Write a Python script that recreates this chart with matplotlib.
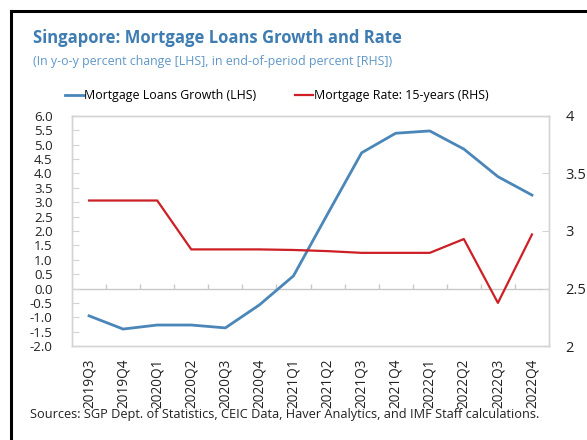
import matplotlib
matplotlib.use("Agg")
import matplotlib.pyplot as plt
from matplotlib.lines import Line2D

plt.rcParams['font.family'] = ['Open Sans', 'DejaVu Sans']

quarters = ['2019Q3', '2019Q4', '2020Q1', '2020Q2', '2020Q3', '2020Q4', '2021Q1',
            '2021Q2', '2021Q3', '2021Q4', '2022Q1', '2022Q2', '2022Q3', '2022Q4']
loans_growth = [-0.95, -1.41, -1.27, -1.27, -1.37, -0.57, 0.44,
                2.59, 4.72, 5.40, 5.48, 4.85, 3.89, 3.25]
mortgage_rate = [3.265, 3.265, 3.265, 2.84, 2.84, 2.84, 2.835,
                 2.825, 2.81, 2.81, 2.81, 2.93, 2.375, 2.97]
left_ticks = [-2.0, -1.5, -1.0, -0.5, 0.0, 0.5, 1.0, 1.5, 2.0, 2.5, 3.0, 3.5, 4.0, 4.5, 5.0, 5.5, 6.0]
right_ticks = [2, 2.5, 3, 3.5, 4]
right_labels = ['2', '2.5', '3', '3.5', '4']

blue = '#4a86b8'
red = '#cc1f26'
frame = '#d4d4d4'

fig = plt.figure(figsize=(5.87, 4.4), dpi=100)
ax = fig.add_axes([0.1227, 0.2136, 0.8126, 0.5228])
ax2 = ax.twinx()

x = list(range(len(quarters)))
ax.plot(x, loans_growth, color=blue, lw=2.0, zorder=3)
ax2.plot(x, mortgage_rate, color=red, lw=1.6, zorder=3)

ax.set_xlim(-0.5, len(quarters) - 0.5)
ax.set_ylim(-2, 6)
ax2.set_ylim(2, 4)

# zero line with small category separators
ax.axhline(0, color='#c8c8c8', lw=1.0, zorder=1)
ax.vlines([i + 0.5 for i in range(len(quarters) - 1)], 0, 0.17, color='#c8c8c8', lw=1.0, zorder=1)

ax.set_yticks(left_ticks)
ax.set_yticklabels([f'{v:.1f}' for v in left_ticks])
ax2.set_yticks(right_ticks)
ax2.set_yticklabels(right_labels)
ax.set_xticks(x)
ax.set_xticklabels(quarters, rotation=90)

ax.tick_params(axis='y', direction='in', length=5, color=frame, pad=14, labelsize=9.5, labelcolor='#222222')
ax2.tick_params(axis='y', direction='in', length=5, color=frame, pad=12, labelsize=10.5, labelcolor='#222222')
ax.tick_params(axis='x', length=0, pad=9, labelsize=9.8, labelcolor='#222222')

for a in (ax, ax2):
    for s in a.spines.values():
        s.set_color(frame)
        s.set_linewidth(1.0)

# title block
fig.text(0.057, 0.914, 'Singapore: Mortgage Loans Growth and Rate', fontsize=12,
         fontweight='bold', color='#3f7cb1', va='center')
fig.text(0.057, 0.861, '(In y-o-y percent change [LHS], in end-of-period percent [RHS])',
         fontsize=8.9, color='#5f97c6', va='center')

# legend
handles = [Line2D([], [], color=blue, lw=2.0), Line2D([], [], color=red, lw=1.6)]
fig.legend(handles, ['Mortgage Loans Growth (LHS)', 'Mortgage Rate: 15-years (RHS)'],
           loc='center left', bbox_to_anchor=(65 / 587, 0.782), ncol=2, frameon=False,
           fontsize=8.9, handlelength=1.5, handletextpad=0.05, columnspacing=3.1,
           borderpad=0, borderaxespad=0)

fig.text(0.051, 0.059, 'Sources: SGP Dept. of Statistics, CEIC Data, Haver Analytics, and IMF Staff calculations.',
         fontsize=9.2, color='#222222', va='center')

# outer border (left and top visible)
fig.add_artist(Line2D([0.018, 0.018], [0.0, 0.975], transform=fig.transFigure, color='black', lw=2.2))
fig.add_artist(Line2D([0.018, 1.0], [0.975, 0.975], transform=fig.transFigure, color='black', lw=2.2))

plt.savefig('out.png', dpi=100)
